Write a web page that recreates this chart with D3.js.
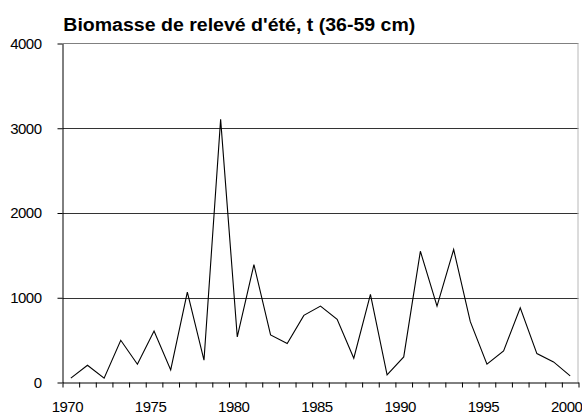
<!DOCTYPE html>
<html>
<head>
<meta charset="utf-8">
<script src="https://cdn.jsdelivr.net/npm/d3@7"></script>
<style>
  body { margin: 0; background: #fff; }
  text { font-family: "Liberation Sans", Arial, sans-serif; }
</style>
</head>
<body>
<div id="chart"></div>
<script>
// Biomasse de relevé d'été, t (36-59 cm)
var years = d3.range(1970, 2001);
var biomass = [51, 204, 51, 498, 216, 608, 149, 1067, 263, 3105, 537,
               1392, 561, 459, 792, 902, 745, 286, 1039, 90, 302,
               1549, 902, 1569, 718, 216, 373, 882, 341, 243, 78];
var yTicks = [0, 1000, 2000, 3000, 4000];
var yearLabels = [1970, 1975, 1980, 1985, 1990, 1995, 2000];

var width = 582, height = 413;
var plotLeft = 62.5, plotRight = 578.5, plotTop = 43.5, plotBottom = 382.5;

var svg = d3.select("#chart").append("svg")
    .attr("width", width)
    .attr("height", height);

//category axis: ticks on boundaries, points in the middle
var x = d3.scaleLinear().domain([1970, 2001]).range([plotLeft, plotRight]);
var y = d3.scaleLinear().domain([0, 4000]).range([plotBottom, plotTop]);

//gridlines
svg.append("g")
  .selectAll("line")
  .data(yTicks.filter(function(d) { return d > 0 && d < 4000; }))
  .enter().append("line")
    .attr("x1", plotLeft)
    .attr("x2", plotRight)
    .attr("y1", function(d) { return Math.round(y(d)) + 0.5; })
    .attr("y2", function(d) { return Math.round(y(d)) + 0.5; })
    .style("stroke", "#333")
    .style("stroke-width", 1);

//plot border top/right
svg.append("line")
    .attr("x1", plotLeft).attr("x2", plotRight)
    .attr("y1", plotTop).attr("y2", plotTop)
    .style("stroke", "#808080");
svg.append("line")
    .attr("x1", plotRight - 0.5).attr("x2", plotRight - 0.5)
    .attr("y1", plotTop).attr("y2", plotBottom)
    .style("stroke", "#b8b8b8");

//y axis
var yAxis = svg.append("g")
    .attr("transform", "translate(" + plotLeft + ",0)")
    .call(d3.axisLeft(y).tickValues(yTicks).tickFormat(d3.format("d"))
      .tickSize(5).tickPadding(16).tickSizeOuter(0));
yAxis.select(".domain").style("stroke", "#000");
yAxis.selectAll(".tick line").style("stroke", "#000");
yAxis.selectAll("text")
    .style("font-family", "'Liberation Sans', Arial, sans-serif")
    .style("font-size", "15px")
    .style("letter-spacing", "-0.5px")
    .style("fill", "#000");

//x axis
var xAxis = svg.append("g")
    .attr("transform", "translate(0," + plotBottom + ")")
    .call(d3.axisBottom(x).tickValues(d3.range(1970, 2002)).tickSize(5).tickFormat("").tickSizeOuter(0));
xAxis.select(".domain").style("stroke", "#000");
xAxis.selectAll(".tick line").style("stroke", "#000");

svg.append("g")
  .selectAll("text")
  .data(yearLabels)
  .enter().append("text")
    .attr("x", function(d) { return x(d + 0.5) - 3.5; })
    .attr("y", 411.5)
    .attr("text-anchor", "middle")
    .style("font-size", "15px")
    .style("letter-spacing", "-0.5px")
    .text(function(d) { return d; });

//data line
var line = d3.line()
    .x(function(d, i) { return x(years[i] + 0.5); })
    .y(function(d) { return y(d); });

svg.append("path")
    .datum(biomass)
    .attr("d", line)
    .style("fill", "none")
    .style("stroke", "#000")
    .style("stroke-width", 1.1);

//title
svg.append("text")
    .attr("x", 63.3)
    .attr("y", 30.7)
    .attr("textLength", 352)
    .attr("lengthAdjust", "spacingAndGlyphs")
    .style("font-size", "17.5px")
    .style("font-weight", "bold")
    .text("Biomasse de relevé d'été, t (36-59 cm)");
</script>
</body>
</html>
